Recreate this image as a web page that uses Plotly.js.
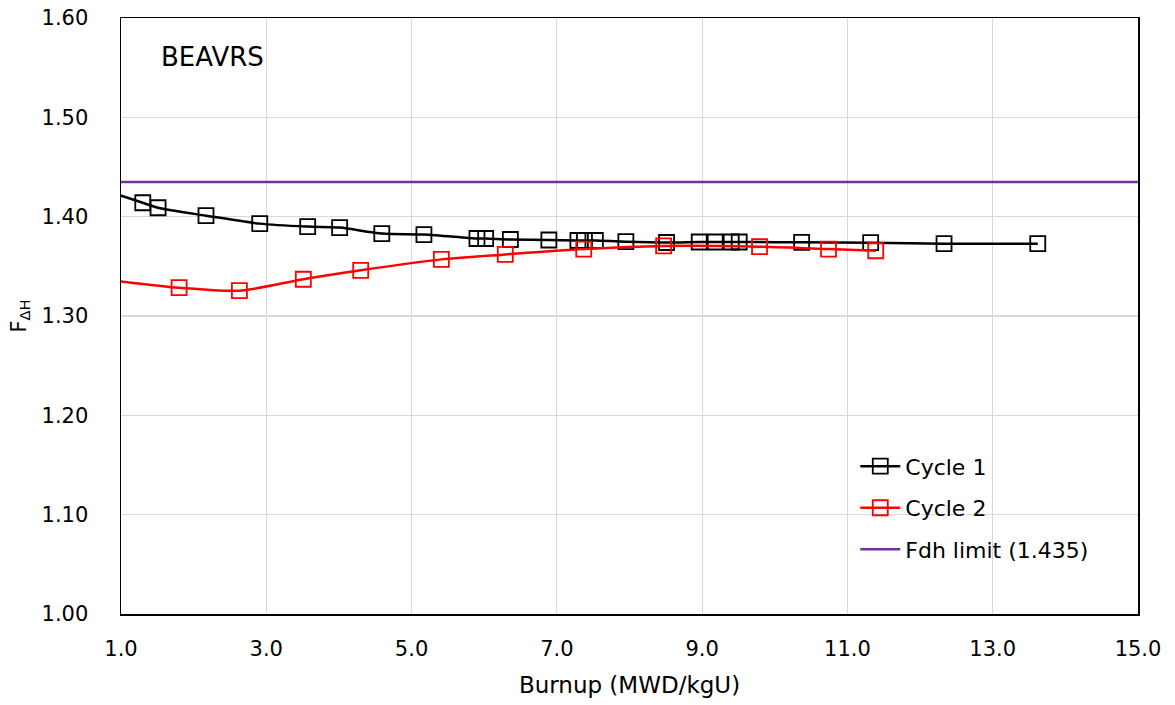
<!DOCTYPE html>
<html>
<head>
<meta charset="utf-8">
<script src="https://cdn.plot.ly/plotly-3.0.1.min.js"></script>
<style>html,body{margin:0;padding:0;background:#fff;}#chart{width:1175px;height:705px;}</style>
</head>
<body>
<div id="chart"></div>
<script>
// Cycle 1 (first point lies left of the visible axis range, line enters from the edge)
const cycle1Burnup = [0.8, 1.30, 1.51, 2.17, 2.91, 3.57, 4.01, 4.59, 5.17, 5.90, 6.02, 6.36, 6.89, 7.29, 7.38, 7.53, 7.95, 8.51, 8.96, 9.18, 9.40, 9.51, 10.37, 11.32, 12.33, 13.62];
const cycle1Fdh    = [1.426, 1.414, 1.409, 1.401, 1.393, 1.390, 1.389, 1.383, 1.382, 1.378, 1.378, 1.377, 1.3765, 1.376, 1.376, 1.376, 1.3748, 1.374, 1.3745, 1.3745, 1.3745, 1.3745, 1.3742, 1.3738, 1.3728, 1.3728];
// Cycle 2
const cycle2Burnup = [0.8, 1.80, 2.63, 3.51, 4.30, 5.41, 6.29, 7.37, 8.47, 9.79, 10.74, 11.39];
const cycle2Fdh    = [1.3366, 1.3285, 1.3255, 1.337, 1.346, 1.357, 1.362, 1.3674, 1.3705, 1.3698, 1.3674, 1.3657];
// Limit line
const limitBurnup = [1.0, 15.0];
const limitFdh    = [1.435, 1.435];
// Ticks
const xTicks = [1, 3, 5, 7, 9, 11, 13, 15];
const yTicks = [1.0, 1.1, 1.2, 1.3, 1.4, 1.5, 1.6];

const FONT = "DejaVu Sans, Liberation Sans, sans-serif";

const traces = [
  {
    x: cycle1Burnup, y: cycle1Fdh, name: 'Cycle 1', type: 'scatter', mode: 'lines+markers',
    line: {color: '#000000', width: 2.5, shape: 'spline', smoothing: 0.8},
    marker: {symbol: 'square-open', size: 15, color: '#000000', line: {width: 1.8, color: '#000000'}},
    legendgroup: 'a'
  },
  {
    x: cycle2Burnup, y: cycle2Fdh, name: 'Cycle 2', type: 'scatter', mode: 'lines+markers',
    line: {color: '#FF0000', width: 2.5, shape: 'spline', smoothing: 0.8},
    marker: {symbol: 'square-open', size: 15, color: '#FF0000', line: {width: 1.8, color: '#FF0000'}},
    legendgroup: 'b'
  },
  {
    x: limitBurnup, y: limitFdh, name: 'Fdh limit (1.435)', type: 'scatter', mode: 'lines',
    line: {color: '#7030A0', width: 2.5},
    legendgroup: 'c'
  }
];

const layout = {
  width: 1175, height: 705,
  margin: {l: 121, r: 37, t: 18, b: 91},
  paper_bgcolor: '#ffffff', plot_bgcolor: '#ffffff',
  font: {family: FONT, color: '#000000', size: 20},
  showlegend: true,
  xaxis: {
    range: [1, 15], tickvals: xTicks, tickformat: '.1f',
    showgrid: true, gridcolor: '#d9d9d9', gridwidth: 1.2,
    showline: true, linecolor: '#000000', linewidth: 1.5, mirror: true,
    zeroline: false, ticks: '', ticklabelstandoff: 15,
    tickfont: {family: FONT, size: 21, color: '#000000'},
    title: {text: 'Burnup (MWD/kgU)', font: {family: FONT, size: 23, color: '#000000'}, standoff: 17}
  },
  yaxis: {
    range: [1, 1.6], tickvals: yTicks, tickformat: '.2f',
    showgrid: true, gridcolor: '#d9d9d9', gridwidth: 1.2,
    showline: true, linecolor: '#000000', linewidth: 1.5, mirror: true,
    zeroline: false, ticks: '', ticklabelstandoff: 27,
    tickfont: {family: FONT, size: 21, color: '#000000'},
    title: {text: 'F<sub>ΔH</sub>', font: {family: FONT, size: 21, color: '#000000'}, standoff: 9}
  },
  legend: {
    x: 0.722, y: 0.283, xanchor: 'left', yanchor: 'top',
    bgcolor: 'rgba(0,0,0,0)', borderwidth: 0,
    font: {family: FONT, size: 22, color: '#000000'},
    tracegroupgap: 10, itemwidth: 40
  },
  annotations: [
    {text: 'BEAVRS', xref: 'paper', yref: 'paper', x: 0.037, y: 0.935,
     xanchor: 'left', yanchor: 'middle', showarrow: false,
     font: {family: FONT, size: 26, color: '#000000'}}
  ]
};

Plotly.newPlot('chart', traces, layout, {displayModeBar: false, staticPlot: true});
</script>
</body>
</html>
